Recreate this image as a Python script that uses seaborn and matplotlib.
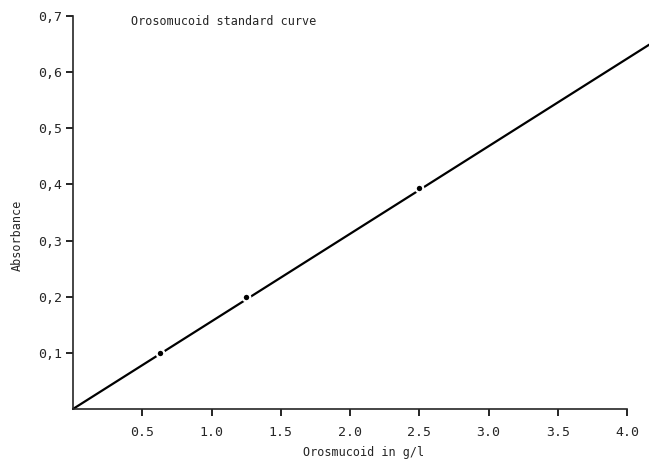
import numpy as np
import pandas as pd
import seaborn as sns
import matplotlib.pyplot as plt

# standard curve (fitted line) and measured standards
curve_x = [0.0, 4.16]
curve_y = [0.0, 0.649]
std_conc = [0.625, 1.25, 2.5]
std_abs = [0.1, 0.2, 0.394]

x_ticks = [0.5, 1.0, 1.5, 2.0, 2.5, 3.0, 3.5, 4.0]
x_labels = ["0.5", "1.0", "1.5", "2.0", "2.5", "3.0", "3.5", "4.0"]
y_ticks = [0.1, 0.2, 0.3, 0.4, 0.5, 0.6, 0.7]
y_labels = ["0,1", "0,2", "0,3", "0,4", "0,5", "0,6", "0,7"]

sns.set_style("ticks")
plt.rcParams['font.family'] = ['DejaVu Sans Mono', 'DejaVu Sans']

fig = plt.figure(figsize=(6.49, 4.59), dpi=100)
ax = fig.add_axes([0.1125, 0.109, 0.8536, 0.856])

sns.lineplot(x=curve_x, y=curve_y, color="black", linewidth=1.6, ax=ax)
for l in ax.lines:
    l.set_clip_on(False)
sns.scatterplot(x=std_conc, y=std_abs, color="black", s=30, edgecolor="white",
                linewidth=1.6, zorder=5, ax=ax, clip_on=False)

ax.set_xlim(0, 4.0)
ax.set_ylim(0, 0.7)
ax.set_xticks(x_ticks)
ax.set_xticklabels(x_labels, fontsize=9.5)
ax.set_yticks(y_ticks)
ax.set_yticklabels(y_labels, fontsize=9.5)
ax.tick_params(axis="both", direction="out", length=5, width=1.2, color="black")
ax.tick_params(axis="x", pad=7)
ax.tick_params(axis="y", pad=3)

sns.despine(ax=ax)
ax.spines["left"].set_linewidth(1.2)
ax.spines["bottom"].set_linewidth(1.2)

ax.set_xlabel("Orosmucoid in g/l", fontsize=8.5)
ax.xaxis.set_label_coords(0.525, -0.095)
ax.set_ylabel("Absorbance", fontsize=8.5)
ax.yaxis.set_label_coords(-0.088, 0.443)

ax.text(0.105, 0.985, "Orosomucoid standard curve", transform=ax.transAxes,
        fontsize=8.5, va="center", ha="left")

fig.savefig("out.png", dpi=100)
